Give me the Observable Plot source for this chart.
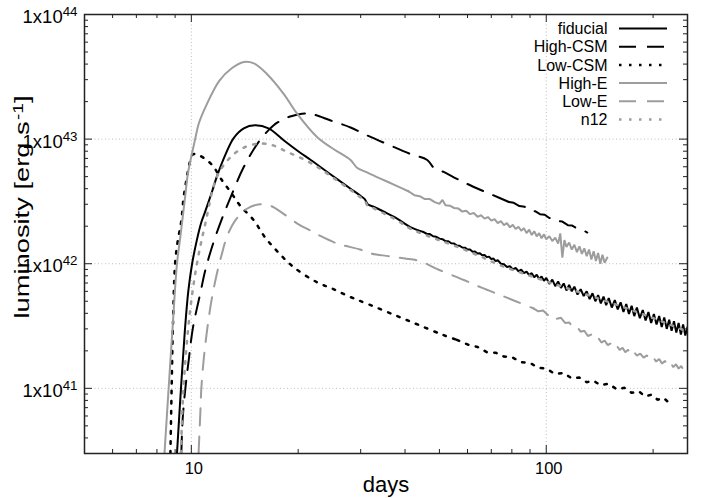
<!DOCTYPE html>
<html>
<head>
<meta charset="utf-8">
<script src="https://cdn.jsdelivr.net/npm/d3@7"></script>
<script src="https://cdn.jsdelivr.net/npm/@observablehq/plot@0.6"></script>
<style>
  html, body { margin: 0; padding: 0; background: #fff; }
</style>
</head>
<body>
<div id="chart"></div>
<script>
// ---------- data: [days, luminosity erg/s] ----------
const fiducial = [
  [9.11,3.0e40],[9.35,1.0e41],[9.59,2.93e41],[9.81,6.1e41],[10.05,1.0e42],[10.36,1.54e42],[10.67,2.15e42],
  [10.95,2.64e42],[11.44,3.8e42],[11.8,5.0e42],[12.5,7.6e42],[13.16,1.02e43],[14.05,1.22e43],[15.1,1.29e43],
  [16.5,1.22e43],[18.2,9.8e42],[20.0,8.0e42],[21.7,6.8e42],[24.7,5.2e42],[28.1,4.0e42],[30.0,3.5e42],
  [30.8,3.3e42],[31.4,3.0e42],[32.5,2.88e42],[35,2.6e42],[38,2.3e42],[41.4,1.97e42],[45,1.80e42],
  [46,1.74e42],[47,1.73e42],[48,1.66e42],[49,1.645e42],[50,1.59e42],[51,1.575e42],[52,1.52e42],[53,1.515e42],
  [54,1.46e42],[55,1.455e42],[56,1.40e42],[57,1.395e42],[58,1.35e42],[59,1.345e42],[60,1.30e42],[61,1.30e42],
  [62,1.25e42],[63,1.255e42],[64,1.21e42],[65,1.215e42],[66,1.17e42],[67,1.175e42],[68,1.13e42],[69,1.14e42],
  [70,1.09e42],[71,1.10e42],[72,1.05e42],[73,1.07e42],[74.5,1.00e42],[76,0.99e42],[77.5,0.94e42],[79,0.955e42],
  [80.5,0.90e42],[82,0.925e42],[83.5,0.87e42],[85,0.895e42],[86.5,0.84e42],[88,0.865e42],[89.5,0.81e42],
  [91,0.84e42],[92.5,0.78e42],[94,0.815e42],[95.5,0.755e42],[97,0.79e42],[98.5,0.73e42],[100,0.77e42],
  [102,0.69e42],[104,0.745e42],[106,0.66e42],[108,0.72e42],[110,0.64e42],[112,0.695e42],[114,0.61e42],
  [116,0.675e42],[118,0.60e42],[120,0.655e42],[122.5,0.565e42],[125,0.625e42],[127.5,0.55e42],[130,0.60e42],
  [132.5,0.52e42],[135,0.58e42],[137.5,0.50e42],[140,0.56e42],[142.5,0.48e42],[145,0.545e42],[147.5,0.465e42],
  [150,0.53e42],[153,0.445e42],[156,0.51e42],[159,0.43e42],[162,0.49e42],[165,0.41e42],[168,0.475e42],
  [171,0.395e42],[174,0.46e42],[177,0.38e42],[180,0.445e42],[183.5,0.365e42],[187,0.425e42],[190.5,0.35e42],
  [194,0.41e42],[197.5,0.335e42],[201,0.395e42],[204.5,0.325e42],[208,0.38e42],[211.5,0.31e42],[215,0.37e42],
  [218.5,0.30e42],[222,0.355e42],[225.5,0.29e42],[229,0.345e42],[232.5,0.28e42],[236,0.335e42],[239.5,0.27e42],
  [243,0.325e42],[246.5,0.265e42],[250,0.31e42]
];
const highCSM = [
  [9.37,3.0e40],[9.45,5.6e40],[9.62,1.0e41],[9.83,1.68e41],[10.11,3.1e41],[10.6,5.8e41],[10.95,8.9e41],
  [11.56,1.5e42],[12.2,2.3e42],[13.0,3.6e42],[14.05,5.97e42],[15.6,9.8e42],[17.0,1.28e43],[17.9,1.41e43],
  [19.0,1.52e43],[20.5,1.6e43],[22.0,1.58e43],[24.7,1.41e43],[28.1,1.24e43],[31.3,1.07e43],[36,9.0e42],
  [41.4,7.6e42],[46.2,6.8e42],[48.2,5.9e42],[51.4,5.45e42],[56,4.8e42],[62.5,4.13e42],[70,3.6e42],
  [78.5,3.13e42],[81,3.08e42],[84,2.90e42],[87,2.86e42],[90.3,2.65e42],[93,2.64e42],[96,2.50e42],[99,2.47e42],
  [102,2.33e42],[105,2.32e42],[108,2.20e42],[111,2.18e42],[115,2.04e42],[118,2.03e42],[122,1.92e42],
  [126,1.88e42],[130.5,1.78e42]
];
const lowCSM = [
  [8.73,3.0e40],[8.8,1.0e41],[8.87,3.0e41],[9.0,1.0e42],[9.15,1.5e42],[9.37,2.2e42],[9.5,3.3e42],[9.72,5.0e42],
  [9.9,6.5e42],[10.1,7.55e42],[10.4,7.5e42],[10.8,7.1e42],[11.44,6.2e42],[12.2,4.67e42],[12.9,3.77e42],
  [13.7,2.94e42],[15.0,2.23e42],[16.1,1.64e42],[17.5,1.25e42],[19.4,9.4e41],[22.6,7.1e41],[25,6.3e41],
  [28.1,5.4e41],[32,4.65e41],[38,3.8e41],[44,3.2e41],[51.4,2.67e41],[56,2.45e41],
  [60,2.25e41],[64,2.15e41],[68,1.95e41],[72,1.93e41],[76,1.80e41],[80,1.78e41],[85,1.62e41],[90,1.60e41],
  [95,1.46e41],[100,1.44e41],[106,1.30e41],[112,1.33e41],[118,1.20e41],[124,1.22e41],[130,1.12e41],
  [136,1.15e41],[142,1.06e41],[150,1.09e41],[158,0.98e41],[166,1.01e41],[174,0.92e41],[182,0.95e41],
  [190,0.86e41],[198,0.89e41],[206,0.81e41],[214,0.84e41],[220,0.78e41],[224,0.82e41]
];
const highE = [
  [8.4,3.0e40],[8.63,1.0e41],[8.85,3.0e41],[9.11,1.0e42],[9.31,1.64e42],[9.6,3.4e42],[9.78,5.3e42],
  [10.25,1.0e43],[10.49,1.33e43],[11.0,1.85e43],[12.0,2.95e43],[13.0,3.7e43],[14.05,4.15e43],[15.0,4.05e43],
  [16.3,3.35e43],[18.2,2.31e43],[19.86,1.6e43],[22.6,1.04e43],[24.7,8.6e42],[26.5,7.6e42],[28.1,6.8e42],
  [29.3,5.9e42],[31,5.45e42],[34.1,4.82e42],[38,4.2e42],[41,3.8e42],
  [42.5,3.55e42],[44,3.48e42],[45.5,3.30e42],[47,3.30e42],[48.5,3.12e42],[50,3.02e42],[51,3.25e42],[52,2.95e42],
  [53.5,2.92e42],[55,2.80e42],[56.5,2.78e42],[58,2.62e42],[59.5,2.66e42],[61,2.50e42],[62.5,2.55e42],
  [64,2.38e42],[65.5,2.45e42],[67,2.30e42],[68.5,2.37e42],[70,2.22e42],[71.5,2.28e42],[73,2.12e42],
  [74.5,2.20e42],[76,2.04e42],[77.5,2.12e42],[79,1.96e42],[80.5,2.05e42],[82,1.90e42],[83.5,1.98e42],
  [85,1.84e42],[86.5,1.93e42],[88,1.76e42],[89.5,1.88e42],[91,1.70e42],[92.5,1.82e42],[94,1.66e42],
  [95.5,1.76e42],[97,1.60e42],[98.5,1.72e42],[100,1.57e42],[102,1.66e42],[104,1.52e42],[106,1.62e42],
  [108,1.45e42],[109.5,1.75e42],[111,1.12e42],[112.5,1.55e42],[114,1.36e42],[116,1.48e42],[118,1.30e42],
  [120,1.42e42],[122,1.24e42],[124,1.38e42],[126,1.20e42],[128,1.33e42],[130,1.15e42],[132,1.30e42],
  [134,1.08e42],[136,1.26e42],[138,1.05e42],[140,1.22e42],[142,1.00e42],[144,1.18e42],[146,1.02e42],
  [148.6,1.12e42]
];
const lowE = [
  [10.48,3.0e40],[10.6,6.3e40],[10.67,1.0e41],[10.83,1.68e41],[11.07,2.9e41],[11.4,5.1e41],[11.8,8.3e41],
  [12.2,1.21e42],[12.6,1.65e42],[13.3,2.23e42],[14.3,2.75e42],[15.6,3.0e42],[16.8,2.9e42],[18.2,2.51e42],
  [20,2.08e42],[21.6,1.85e42],[23,1.68e42],[25.8,1.45e42],[29.9,1.3e42],[32.0,1.21e42],[36,1.15e42],
  [40,1.1e42],[42.2,1.08e42],[44.8,1.03e42],[50,8.9e41],[58.6,7.4e41],[66,6.4e41],[74.3,5.6e41],[82,5.0e41],
  [92.2,4.37e41],
  [95,4.15e41],[98,4.22e41],[101,3.88e41],[104,3.95e41],[107,3.62e41],[110,3.68e41],[113,3.35e41],[116,3.38e41],
  [119,3.08e41],[122,3.12e41],[125,2.85e41],[128,2.9e41],[131,2.63e41],[134,2.7e41],[137,2.48e41],[140,2.55e41],
  [143,2.33e41],[146,2.42e41],[149,2.22e41],[152,2.3e41],[155,2.12e41],[158,2.2e41],[161,2.03e41],[164,2.12e41],
  [167,1.95e41],[170,2.04e41],[173,1.88e41],[176,1.98e41],[180,1.83e41],[184,1.9e41],[188,1.76e41],[192,1.84e41],
  [196,1.7e41],[200,1.78e41],[204,1.64e41],[208,1.72e41],[212,1.58e41],[216,1.66e41],[220,1.53e41],[224,1.6e41],
  [228,1.48e41],[232,1.56e41],[236,1.44e41],[240,1.51e41],[244,1.4e41],[248,1.48e41],[250,1.43e41]
];
const n12 = [
  [9.35,3.0e40],[9.5,1.0e41],[9.9,4.0e41],[10.37,1.0e42],[10.95,2.1e42],[11.8,4.97e42],[12.8,7.0e42],
  [14.0,8.5e42],[15.6,9.2e42],[17.0,8.9e42],[18.6,7.9e42],[20.5,7.0e42],[22.6,6.0e42],[24.7,5.05e42],
  [28.1,3.9e42],[30.0,3.4e42],[30.8,3.2e42],[31.4,2.92e42],[32.5,2.8e42],[35,2.52e42],[38,2.23e42],
  [41.4,1.91e42],[48,1.61e42],[56,1.37e42],[65,1.15e42],[74.3,0.97e42],[90,8.0e41],[110,6.6e41],
  [142,5.2e41],[180,4.1e41],[220,3.3e41],[250,2.85e41]
];

const seriesNames = ["fiducial", "High-CSM", "Low-CSM", "High-E", "Low-E", "n12"];
const seriesData  = [fiducial, highCSM, lowCSM, highE, lowE, n12];
// day after which each simulated curve becomes noisy (drawn without smoothing)
const noisyFrom   = [45, 78.5, 56, 41, 92.2, Infinity];

const xMajorTicks = [10, 100];
const xMinorTicks = [6, 7, 8, 9, 20, 30, 40, 50, 60, 70, 80, 90, 200];
const yMajorTicks = [1e41, 1e42, 1e43, 1e44];
const yMinorTicks = [];
for (let k = 40; k <= 43; k++) for (let m = 2; m <= 9; m++) {
  const v = m * Math.pow(10, k);
  if (v > 3e40 && v < 1e44) yMinorTicks.push(v);
}
const xLabel = "days";
const yLabelParts = ["luminosity [erg s", "-1", "]"];

// ---------- styles ----------
const FONT = "'Liberation Sans', Arial, Helvetica, sans-serif";
const GRAY = "#9d9d9d";
const styles = {
  "fiducial": {stroke: "#000", dash: null, width: 2},
  "High-CSM": {stroke: "#000", dash: "17,11", width: 2},
  "Low-CSM":  {stroke: "#000", dash: "2.5,7.5", width: 2.5},
  "High-E":   {stroke: GRAY, dash: null, width: 2},
  "Low-E":    {stroke: GRAY, dash: "17,11", width: 2},
  "n12":      {stroke: GRAY, dash: "2.5,7.5", width: 2.5}
};

const W = 712, H = 498, mL = 84, mR = 25, mT = 14, mB = 45;
const fw = W - mL - mR, fh = H - mT - mB;
const MAJ = 8, MIN = 4;
const tickStroke = "#222";

const lineMarks = [];
seriesNames.forEach((name, i) => {
  const s = styles[name], cut = noisyFrom[i], data = seriesData[i];
  const common = {x: d => d[0], y: d => d[1], stroke: s.stroke, strokeWidth: s.width,
                  strokeDasharray: s.dash, clip: true};
  lineMarks.push(Plot.line(data.filter(d => d[0] <= cut), {...common, curve: "catmull-rom"}));
  const tail = data.filter(d => d[0] >= cut);
  if (tail.length > 1) lineMarks.push(Plot.line(tail, {...common, curve: "linear", strokeLinejoin: "miter"}));
});

const svg = Plot.plot({
  width: W, height: H,
  marginLeft: mL, marginRight: mR, marginTop: mT, marginBottom: mB,
  style: {fontFamily: FONT, background: "#fff", color: "#000"},
  x: {type: "log", domain: [5, 250]},
  y: {type: "log", domain: [3e40, 1e44]},
  marks: [
    Plot.ruleX(xMajorTicks, {x: d => d, stroke: "#bdbdbd", strokeDasharray: "1,2.5"}),
    Plot.ruleY(yMajorTicks, {y: d => d, stroke: "#bdbdbd", strokeDasharray: "1,2.5"}),
    ...lineMarks,
    Plot.tickY(yMajorTicks, {y: d => d, insetRight: fw - MAJ, stroke: tickStroke}),
    Plot.tickY(yMajorTicks, {y: d => d, insetLeft: fw - MAJ, stroke: tickStroke}),
    Plot.tickY(yMinorTicks, {y: d => d, insetRight: fw - MIN, stroke: tickStroke}),
    Plot.tickY(yMinorTicks, {y: d => d, insetLeft: fw - MIN, stroke: tickStroke}),
    Plot.tickX(xMajorTicks, {x: d => d, insetTop: fh - MAJ, stroke: tickStroke}),
    Plot.tickX(xMajorTicks, {x: d => d, insetBottom: fh - MAJ, stroke: tickStroke}),
    Plot.tickX(xMinorTicks, {x: d => d, insetTop: fh - MIN, stroke: tickStroke}),
    Plot.tickX(xMinorTicks, {x: d => d, insetBottom: fh - MIN, stroke: tickStroke}),
    Plot.frame({stroke: "#222", strokeWidth: 1.5}),
    Plot.axisX({ticks: xMajorTicks, tickSize: 0, tickPadding: 9, dx: 2.5, fontSize: 16.5,
                tickFormat: d => String(d), label: null}),
    Plot.axisY({ticks: yMajorTicks, tickSize: 0, tickPadding: 7, dy: 2.5, fontSize: 18.5,
                tickFormat: d => "1x10^" + Math.round(Math.log10(d)), label: null}),
    Plot.text([xLabel], {text: d => d, frameAnchor: "bottom", textAnchor: "middle", dy: 38, fontSize: 22})
  ]
});

const root = d3.select(svg);
// superscripts in y tick labels
root.selectAll('g[aria-label="y-axis tick label"] text').each(function () {
  const parts = this.textContent.split("^");
  const t = d3.select(this);
  t.text(parts[0]);
  t.append("tspan").attr("dy", "-0.5em").attr("font-size", "0.72em").text(parts[1]);
});
// y axis title (rotated, with superscript)
const yl = root.append("text")
  .attr("transform", "translate(22,207) rotate(-90) scale(1.3,1)")
  .attr("text-anchor", "middle").attr("dy", "0.35em")
  .attr("font-family", FONT).attr("font-size", 21).attr("fill", "#000");
yl.append("tspan").text(yLabelParts[0]);
yl.append("tspan").attr("dy", "-0.45em").attr("font-size", "0.7em").attr("dx", "1").text(yLabelParts[1]);
yl.append("tspan").attr("dy", "0.315em").text(yLabelParts[2]);

// legend (inside frame, top-right)
const lg = root.append("g").attr("font-family", FONT).attr("font-size", 16);
seriesNames.forEach((name, i) => {
  const y = 28.5 + i * 18.2;
  lg.append("text").attr("x", 607.5).attr("y", y).attr("dy", "0.35em")
    .attr("text-anchor", "end").attr("fill", "#000").text(name);
  lg.append("line").attr("x1", 619).attr("x2", 667).attr("y1", y).attr("y2", y)
    .attr("stroke", styles[name].stroke).attr("stroke-width", styles[name].width)
    .attr("stroke-dasharray", styles[name].dash);
});

document.getElementById("chart").appendChild(svg);
</script>
</body>
</html>
